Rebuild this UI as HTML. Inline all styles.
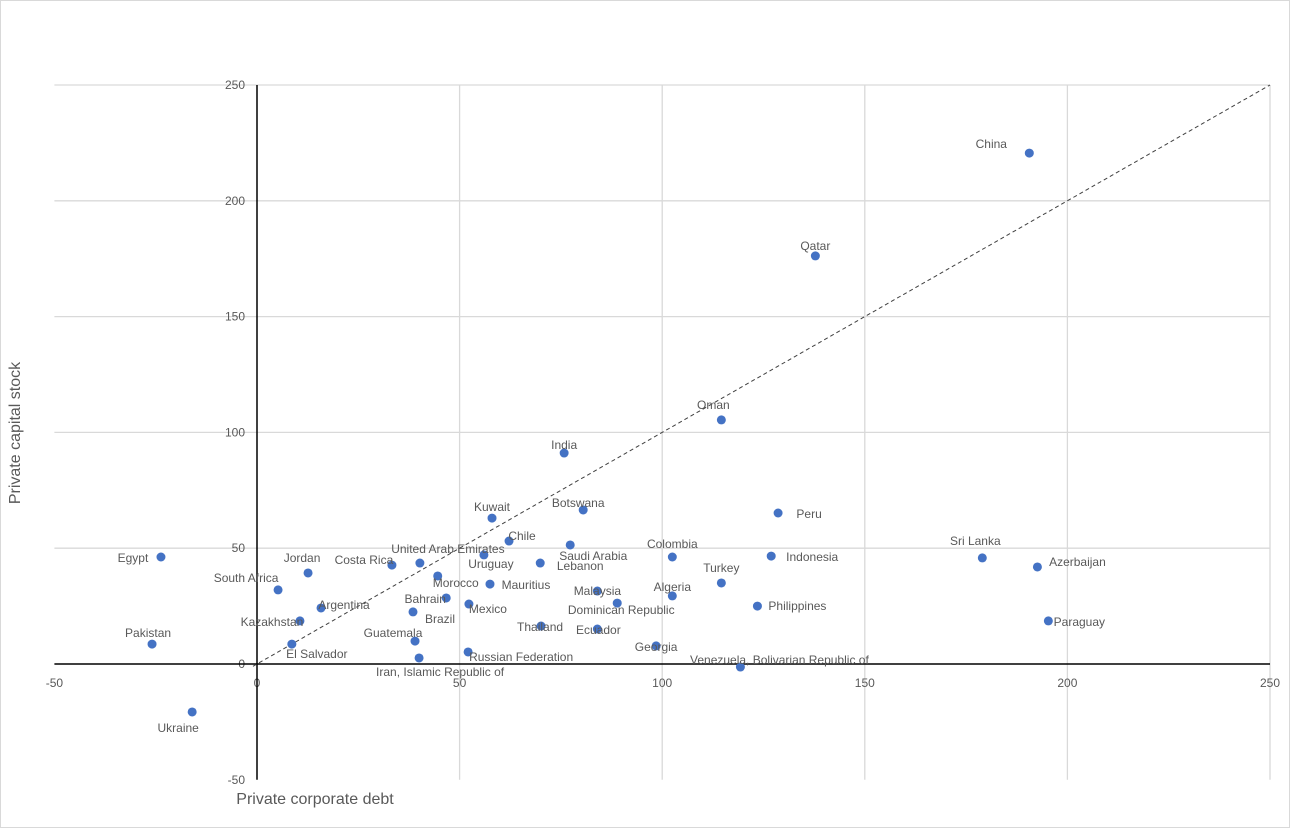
<!DOCTYPE html>
<html><head><meta charset="utf-8"><style>
html,body{margin:0;padding:0;background:#fff}
svg{display:block;font-family:"Liberation Sans",sans-serif}
</style></head><body>
<svg id="chart" width="1290" height="828" viewBox="0 0 1290 828">
<rect x="0.5" y="0.5" width="1289" height="827" fill="#fff" stroke="#d9d9d9"/>
<g id="grid"></g><g id="axes"></g><g id="marks"></g><g id="labels"></g>
<text x="20" y="433" transform="rotate(-90 20 433)" text-anchor="middle" font-size="16" fill="#595959">Private capital stock</text>
<text x="315" y="804" text-anchor="middle" font-size="16" fill="#595959">Private corporate debt</text>
</svg>
<script>
const countries=["China","Qatar","Oman","India","Botswana","Kuwait","Peru","Chile","Saudi Arabia","United Arab Emirates","Colombia","Indonesia","Sri Lanka","Azerbaijan","Egypt","Lebanon","Costa Rica","Uruguay","Jordan","South Africa","Morocco","Mauritius","Turkey","Malaysia","Algeria","Bahrain","Mexico","Dominican Republic","Philippines","Argentina","Brazil","Kazakhstan","Paraguay","Thailand","Ecuador","Guatemala","El Salvador","Pakistan","Georgia","Russian Federation","Iran, Islamic Republic of","Venezuela, Bolivarian Republic of","Ukraine"];
const debt=[190.6,137.8,114.6,75.8,80.5,58.0,128.6,62.2,77.3,40.2,102.5,126.9,179.0,192.6,-23.7,69.9,33.3,56.0,12.6,5.2,44.6,57.5,114.6,84.0,102.5,46.7,52.3,88.9,123.5,15.8,38.5,10.6,195.3,70.1,84.0,39.0,8.6,-25.9,98.5,52.1,40.0,119.3,-16.0];
const capital=[220.6,176.2,105.4,91.1,66.5,63.0,65.2,53.1,51.4,43.6,46.2,46.6,45.8,41.9,46.2,43.6,42.7,47.1,39.3,32.0,38.0,34.5,35.0,31.5,29.4,28.5,25.9,26.3,25.0,24.2,22.5,18.6,18.6,16.4,15.1,9.9,8.6,8.6,7.8,5.2,2.6,-1.3,-20.7];
const labelDx=[-38,0,-8,0,-5,0,31,13,23,28,0,41,-7,40,-28,40,-28,7,-6,-32,18,36,0,0,0,-21,19,4,40,23,27,-28,31,-1,1,-22,25,-4,0,53,21,39,-14];
const labelDy=[-9,-10,-15,-8,-7,-11,1,-5,11,-14,-13,1,-17,-5,1,3,-5,9,-15,-12,7,1,-15,0,-9,1,5,7,0,-3,7,1,1,1,1,-8,10,-11,1,5,14,-7,16];
const xTicks=[-50,0,50,100,150,200,250];
const yTicks=[-50,0,50,100,150,200,250];
const X=v=>257+v*4.052, Y=v=>664-v*2.316;
const NS="http://www.w3.org/2000/svg";
function mk(tag,attrs,parent,txt){const e=document.createElementNS(NS,tag);for(const k in attrs)e.setAttribute(k,attrs[k]);if(txt!==undefined)e.textContent=txt;parent.appendChild(e);return e;}
const grid=document.getElementById('grid'),axes=document.getElementById('axes'),marks=document.getElementById('marks'),labels=document.getElementById('labels');
xTicks.forEach(t=>{
  if(t>0){const l=mk('line',{x1:X(t),x2:X(t),y1:Y(250),y2:Y(-50),stroke:'#d9d9d9','stroke-width':1.3},grid);
  
  }
  const tx=mk('text',{x:X(t),y:687,'text-anchor':'middle','font-size':12,fill:'#595959'},axes,String(t));
  
  
});
yTicks.forEach(t=>{
  if(t!==0&&t!==-50){const l=mk('line',{x1:X(-50),x2:X(250),y1:Y(t),y2:Y(t),stroke:'#d9d9d9','stroke-width':1.3},grid);
  
  }
  const tx=mk('text',{x:245,y:Y(t)+4,'text-anchor':'end','font-size':12,fill:'#595959'},axes,String(t));
  
  
});
const xa=mk('line',{x1:X(-50),x2:X(250),y1:Y(0),y2:Y(0),stroke:'#000','stroke-width':1.5},axes);


const ya=mk('line',{x1:X(0),x2:X(0),y1:Y(250),y2:Y(-50),stroke:'#000','stroke-width':1.5},axes);


const diag=mk('line',{x1:X(-1),y1:Y(-1),x2:X(250),y2:Y(250),stroke:'#404040','stroke-width':1,'stroke-dasharray':'4 3'},axes);


countries.forEach((c,i)=>{
  const cx=X(debt[i]),cy=Y(capital[i]);
  const d=mk('circle',{cx:cx,cy:cy,r:4.5,fill:'#4472C4'},marks);
  
  
  const t=mk('text',{x:cx+labelDx[i],y:cy+labelDy[i]+4,'text-anchor':'middle','font-size':12,fill:'#595959'},labels,c);
  
  
});
</script>
</body></html>
